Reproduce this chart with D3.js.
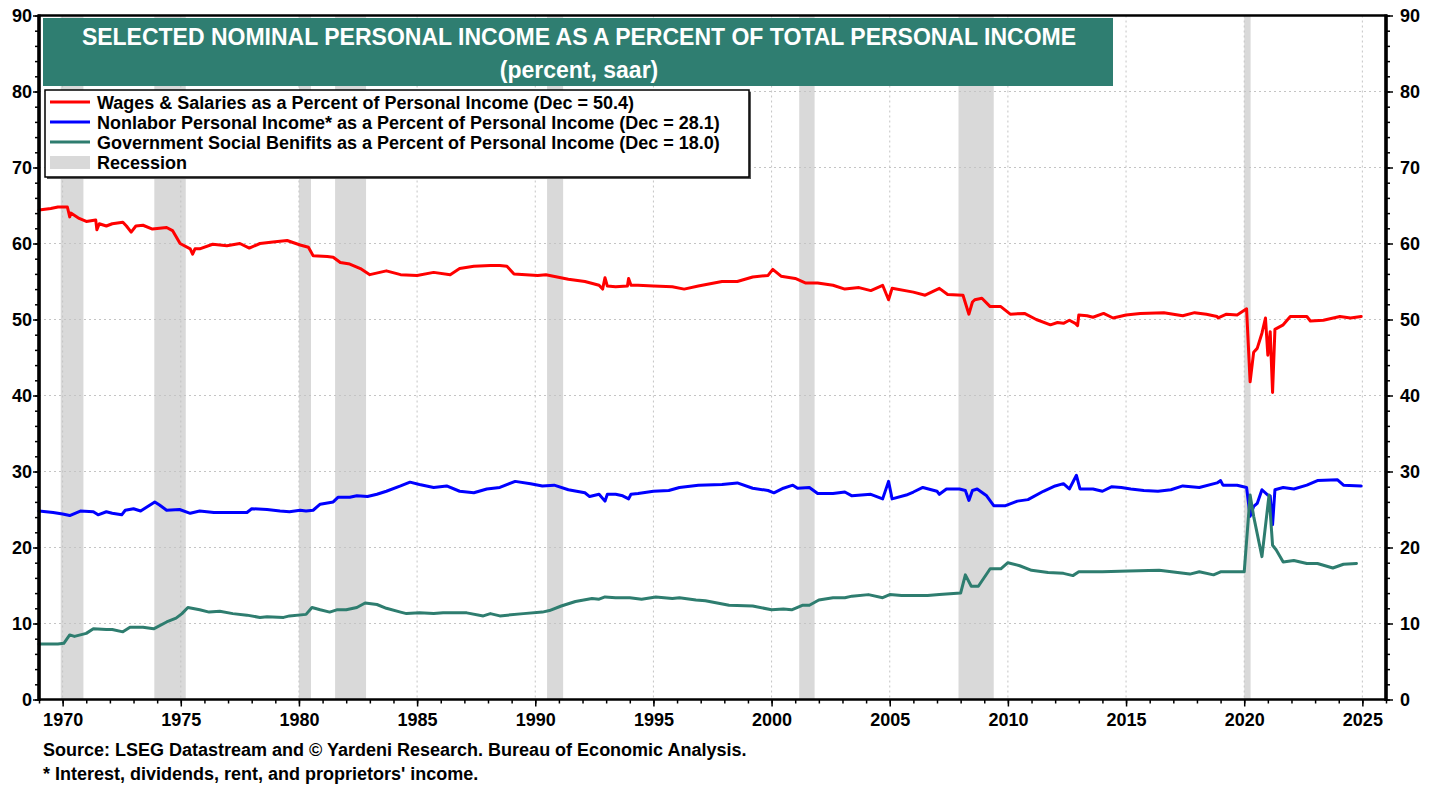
<!DOCTYPE html>
<meta charset="utf-8">
<style>
body { margin: 0; background: #fff; }
svg { font-family: Arial, "Liberation Sans", sans-serif; font-weight: bold; }
.grid line { stroke: #c4c4c4; stroke-width: 1; stroke-dasharray: 2,3; }
.axis path { display: none; }
.axis line { stroke: #000; stroke-width: 1.5; }
.axis text { font-size: 18px; fill: #000; font-weight: bold; }
.series { fill: none; stroke-width: 3; stroke-linejoin: round; stroke-linecap: round; }
</style>
<body></body>
<script src="https://d3js.org/d3.v7.min.js"></script>
<script>

// [year, percent]
var wages = [
  [1969.0,64.4],[1969.5,64.6],[1969.8,64.8],[1970.2,64.8],[1970.3,63.5],[1970.35,64.0],[1970.7,63.3],
  [1971.0,62.9],[1971.4,63.1],[1971.45,61.8],[1971.55,62.6],[1971.85,62.3],[1972.1,62.6],[1972.55,62.8],
  [1972.7,62.3],[1972.9,61.5],[1973.1,62.3],[1973.4,62.4],[1973.8,61.9],[1974.4,62.1],[1974.65,61.7],
  [1974.97,60.0],[1975.4,59.3],[1975.5,58.6],[1975.6,59.3],[1975.8,59.3],[1976.35,59.9],[1976.95,59.7],
  [1977.5,60.0],[1977.9,59.4],[1978.35,60.0],[1978.9,60.2],[1979.5,60.4],[1980.05,59.8],[1980.4,59.5],
  [1980.6,58.4],[1981.2,58.3],[1981.45,58.2],[1981.75,57.5],[1982.15,57.3],[1982.6,56.7],[1983.0,55.9],
  [1983.7,56.4],[1984.3,55.9],[1985.0,55.8],[1985.7,56.2],[1986.4,55.9],[1986.8,56.7],[1987.4,57.0],
  [1988.1,57.1],[1988.5,57.1],[1988.8,57.0],[1989.1,56.0],[1990.1,55.8],[1990.45,55.9],[1991.4,55.3],
  [1992.1,55.0],[1992.7,54.5],[1992.85,54.0],[1992.95,55.5],[1993.05,54.4],[1993.4,54.3],[1993.9,54.4],
  [1993.95,55.4],[1994.05,54.5],[1994.35,54.5],[1995.0,54.4],[1995.8,54.3],[1996.3,54.0],[1996.9,54.4],
  [1997.9,55.0],[1998.55,55.0],[1999.2,55.6],[1999.85,55.8],[2000.05,56.6],[2000.4,55.7],[2001.0,55.4],
  [2001.45,54.8],[2001.95,54.8],[2002.6,54.5],[2003.1,54.0],[2003.7,54.2],[2004.2,53.8],[2004.7,54.5],
  [2004.95,52.6],[2005.1,54.1],[2006.0,53.6],[2006.5,53.2],[2007.1,54.1],[2007.45,53.3],[2008.1,53.2],
  [2008.35,50.7],[2008.5,52.3],[2008.6,52.6],[2008.9,52.8],[2009.25,51.7],[2009.7,51.7],[2010.1,50.7],
  [2010.7,50.8],[2011.2,50.0],[2011.8,49.3],[2012.1,49.6],[2012.35,49.5],[2012.6,49.9],[2012.85,49.5],
  [2012.95,49.2],[2013.0,50.6],[2013.35,50.5],[2013.6,50.3],[2014.05,50.8],[2014.45,50.2],[2015.0,50.6],
  [2015.6,50.8],[2016.6,50.9],[2017.4,50.5],[2017.9,50.9],[2018.4,50.7],[2018.85,50.4],[2018.9,50.2],
  [2019.25,50.7],[2019.7,50.6],[2020.1,51.4],[2020.25,41.8],[2020.4,45.7],[2020.55,46.2],[2020.75,48.2],
  [2020.9,50.2],[2021.0,45.3],[2021.1,48.4],[2021.2,40.4],[2021.3,48.7],[2021.65,49.3],[2021.95,50.4],
  [2022.65,50.4],[2022.8,49.8],[2023.35,49.9],[2024.05,50.4],[2024.5,50.2],[2024.95,50.4]
];

var nonlabor = [
  [1969.0,24.8],[1969.6,24.6],[1970.0,24.4],[1970.3,24.2],[1970.75,24.8],[1971.3,24.7],[1971.5,24.3],
  [1971.85,24.7],[1972.1,24.5],[1972.5,24.3],[1972.65,24.9],[1973.0,25.1],[1973.3,24.8],[1973.55,25.3],
  [1973.9,26.0],[1974.1,25.6],[1974.4,24.9],[1974.95,25.0],[1975.4,24.5],[1975.8,24.8],[1976.4,24.6],
  [1977.2,24.6],[1977.8,24.6],[1978.0,25.1],[1978.65,25.0],[1979.2,24.8],[1979.6,24.7],[1980.05,24.9],
  [1980.3,24.8],[1980.6,24.9],[1980.9,25.7],[1981.45,26.0],[1981.65,26.6],[1982.15,26.6],[1982.45,26.8],
  [1982.9,26.7],[1983.3,27.0],[1983.7,27.4],[1984.3,28.1],[1984.7,28.6],[1985.1,28.3],[1985.7,27.9],
  [1986.25,28.1],[1986.8,27.4],[1987.4,27.2],[1987.95,27.7],[1988.5,27.9],[1989.15,28.7],[1989.8,28.4],
  [1990.3,28.1],[1990.8,28.2],[1991.4,27.6],[1992.1,27.2],[1992.3,26.7],[1992.7,27.0],[1992.95,26.1],
  [1993.05,27.0],[1993.4,27.0],[1993.7,26.8],[1993.95,26.4],[1994.05,27.0],[1994.35,27.1],[1995.0,27.4],
  [1995.65,27.5],[1996.1,27.9],[1996.9,28.2],[1997.9,28.3],[1998.55,28.5],[1999.2,27.8],[1999.85,27.5],
  [2000.1,27.2],[2000.5,27.8],[2000.9,28.2],[2001.1,27.8],[2001.6,27.9],[2001.95,27.1],[2002.6,27.1],
  [2003.1,27.3],[2003.4,26.8],[2004.2,27.0],[2004.7,26.4],[2004.95,28.7],[2005.1,26.4],[2005.7,26.9],
  [2006.0,27.3],[2006.4,27.9],[2007.0,27.4],[2007.1,27.0],[2007.4,27.7],[2007.95,27.7],[2008.2,27.5],
  [2008.35,26.2],[2008.5,27.5],[2008.7,27.7],[2009.1,26.8],[2009.4,25.5],[2009.9,25.5],[2010.4,26.1],
  [2010.85,26.3],[2011.5,27.4],[2012.0,28.1],[2012.35,28.4],[2012.6,27.7],[2012.9,29.5],[2013.05,27.7],
  [2013.6,27.7],[2014.0,27.4],[2014.4,28.0],[2014.8,27.9],[2015.2,27.7],[2015.75,27.5],[2016.35,27.4],
  [2016.9,27.6],[2017.4,28.1],[2018.1,27.9],[2018.85,28.5],[2019.0,28.8],[2019.1,28.2],[2019.7,28.2],
  [2020.1,27.9],[2020.25,24.1],[2020.4,25.4],[2020.55,25.8],[2020.75,27.6],[2021.0,26.9],[2021.1,26.8],
  [2021.2,23.0],[2021.3,27.6],[2021.65,27.9],[2022.1,27.7],[2022.65,28.2],[2023.1,28.8],[2023.95,28.9],
  [2024.2,28.2],[2024.95,28.1]
];

var govBenefits = [
  [1969.0,7.3],[1969.8,7.3],[1970.05,7.4],[1970.3,8.5],[1970.5,8.3],[1971.0,8.7],[1971.3,9.3],
  [1971.85,9.2],[1972.1,9.2],[1972.55,8.9],[1972.85,9.5],[1973.4,9.5],[1973.85,9.3],[1974.4,10.2],
  [1974.8,10.7],[1975.05,11.3],[1975.3,12.1],[1975.8,11.8],[1976.2,11.5],[1976.65,11.6],[1977.2,11.3],
  [1977.8,11.1],[1978.35,10.8],[1978.65,10.9],[1979.35,10.8],[1979.6,11.0],[1980.3,11.2],[1980.55,12.1],
  [1980.9,11.8],[1981.3,11.5],[1981.6,11.8],[1982.0,11.8],[1982.45,12.1],[1982.8,12.7],[1983.3,12.5],
  [1983.7,12.0],[1984.3,11.5],[1984.55,11.3],[1985.1,11.4],[1985.7,11.3],[1986.1,11.4],[1987.1,11.4],
  [1987.8,11.0],[1988.1,11.3],[1988.5,11.0],[1989.5,11.3],[1990.3,11.5],[1990.6,11.7],[1991.1,12.3],
  [1991.7,12.9],[1992.4,13.3],[1992.7,13.2],[1992.95,13.5],[1993.4,13.4],[1994.0,13.4],[1994.5,13.2],
  [1995.1,13.5],[1995.8,13.3],[1996.1,13.4],[1996.8,13.1],[1997.2,13.0],[1998.2,12.4],[1999.2,12.3],
  [2000.0,11.8],[2000.5,11.9],[2000.85,11.8],[2001.3,12.4],[2001.6,12.4],[2002.0,13.1],[2002.6,13.4],
  [2003.1,13.4],[2003.4,13.6],[2004.1,13.8],[2004.7,13.4],[2005.0,13.8],[2005.5,13.7],[2006.6,13.7],
  [2007.1,13.8],[2008.0,14.0],[2008.2,16.4],[2008.45,14.9],[2008.75,14.9],[2009.25,17.2],[2009.7,17.2],
  [2010.0,18.0],[2010.5,17.6],[2011.0,17.0],[2011.7,16.7],[2012.35,16.6],[2012.75,16.3],[2013.0,16.8],
  [2014.0,16.8],[2015.1,16.9],[2016.4,17.0],[2017.7,16.5],[2018.1,16.8],[2018.7,16.4],[2019.0,16.8],
  [2020.0,16.8],[2020.25,26.9],[2020.4,24.1],[2020.75,18.8],[2021.05,26.9],[2021.2,20.3],[2021.35,19.7],
  [2021.65,18.1],[2022.1,18.3],[2022.65,17.9],[2023.1,17.9],[2023.75,17.3],[2024.2,17.8],[2024.75,17.9]
];

// recession [start, end] as fractional years
var recessions = [
  [1969.92,1970.88],[1973.88,1975.21],[1980.0,1980.51],[1981.53,1982.84],
  [1990.5,1991.18],[2001.17,2001.82],[2007.91,2009.4],[2020.0,2020.27]
];

var legendLabels = [
  "Wages & Salaries as a Percent of Personal Income (Dec = 50.4)",
  "Nonlabor Personal Income* as a Percent of Personal Income (Dec = 28.1)",
  "Government Social Benifits as a Percent of Personal Income (Dec = 18.0)",
  "Recession"
];
var yTicks = [0,10,20,30,40,50,60,70,80,90];
var yearTicks = [1970,1975,1980,1985,1990,1995,2000,2005,2010,2015,2020,2025];

var colors = ["#ff0000", "#0000ff", "#2e7d6f"];
var titleColor = "#2f7e71";

var W = 1439, H = 785;
var plot = {left: 39, right: 1386, top: 15.5, bottom: 699.5};

var x = d3.scaleLinear().domain([1969, 2026]).range([plot.left, plot.right]);
var y = d3.scaleLinear().domain([0, 90]).range([plot.bottom, plot.top]);

var svg = d3.select("body").append("svg")
    .attr("width", W)
    .attr("height", H);

// recession shading
svg.append("g").selectAll("rect")
    .data(recessions)
  .enter().append("rect")
    .attr("x", function(d) { return x(d[0]); })
    .attr("width", function(d) { return x(d[1]) - x(d[0]); })
    .attr("y", plot.top)
    .attr("height", plot.bottom - plot.top)
    .attr("fill", "#d9d9d9");

// dotted grid
var grid = svg.append("g").attr("class", "grid");
grid.selectAll(".h")
    .data(yTicks.slice(1, -1))
  .enter().append("line")
    .attr("x1", plot.left).attr("x2", plot.right)
    .attr("y1", function(d) { return y(d); })
    .attr("y2", function(d) { return y(d); });
grid.selectAll(".v")
    .data(yearTicks)
  .enter().append("line")
    .attr("y1", plot.top).attr("y2", plot.bottom)
    .attr("x1", function(d) { return x(d); })
    .attr("x2", function(d) { return x(d); });

// series lines
var line = d3.line()
    .x(function(d) { return x(d[0]); })
    .y(function(d) { return y(d[1]); });

[wages, nonlabor, govBenefits].forEach(function(s, i) {
  svg.append("path")
      .datum(s)
      .attr("class", "series")
      .attr("stroke", colors[i])
      .attr("stroke-width", i == 2 ? 3.5 : 3)
      .attr("d", line);
});

// title box
svg.append("rect")
    .attr("x", 43).attr("y", 18)
    .attr("width", 1070).attr("height", 68)
    .attr("fill", titleColor);
svg.append("text")
    .attr("x", 579).attr("y", 45)
    .attr("text-anchor", "middle")
    .attr("fill", "#fff")
    .style("font-size", "23px")
    .text("SELECTED NOMINAL PERSONAL INCOME AS A PERCENT OF TOTAL PERSONAL INCOME");
svg.append("text")
    .attr("x", 579).attr("y", 78)
    .attr("text-anchor", "middle")
    .attr("fill", "#fff")
    .style("font-size", "23px")
    .text("(percent, saar)");

// legend
var lg = svg.append("g");
lg.append("rect")
    .attr("x", 47).attr("y", 92)
    .attr("width", 704).attr("height", 87)
    .attr("fill", "#555");
lg.append("rect")
    .attr("x", 45).attr("y", 90)
    .attr("width", 704).attr("height", 87)
    .attr("fill", "#fff")
    .attr("stroke", "#000")
    .attr("stroke-width", 1.5);

legendLabels.forEach(function(t, i) {
  var cy = 102 + i * 20;
  if (i < 3) {
    lg.append("line")
        .attr("x1", 50).attr("x2", 90)
        .attr("y1", cy).attr("y2", cy)
        .attr("stroke", colors[i])
        .attr("stroke-width", 3);
  } else {
    lg.append("rect")
        .attr("x", 50).attr("y", cy - 6)
        .attr("width", 40).attr("height", 13)
        .attr("fill", "#d9d9d9");
  }
  lg.append("text")
      .attr("x", 97).attr("y", cy + 6.5)
      .style("font-size", "18px")
      .text(t);
});

// frame
svg.append("rect")
    .attr("x", plot.left).attr("y", plot.top)
    .attr("width", plot.right - plot.left)
    .attr("height", plot.bottom - plot.top)
    .attr("fill", "none")
    .attr("stroke", "#000")
    .attr("stroke-width", 2.5);

// axes
var allYears = d3.range(1969, 2027);
svg.append("g")
    .attr("class", "axis")
    .attr("transform", "translate(0," + plot.bottom + ")")
    .call(d3.axisBottom(x).tickValues(allYears).tickSize(4).tickFormat(""));
svg.append("g")
    .attr("class", "axis")
    .attr("transform", "translate(0," + plot.bottom + ")")
    .call(d3.axisBottom(x).tickValues(yearTicks).tickSize(7).tickPadding(7).tickFormat(d3.format("d")));

var minorY = d3.range(0, 91, 2);
svg.append("g")
    .attr("class", "axis")
    .attr("transform", "translate(" + plot.left + ",0)")
    .call(d3.axisLeft(y).tickValues(minorY).tickSize(4).tickFormat(""));
svg.append("g")
    .attr("class", "axis")
    .attr("transform", "translate(" + plot.left + ",0)")
    .call(d3.axisLeft(y).tickValues(yTicks).tickSize(6).tickPadding(1));
svg.append("g")
    .attr("class", "axis")
    .attr("transform", "translate(" + plot.right + ",0)")
    .call(d3.axisRight(y).tickValues(minorY).tickSize(4).tickFormat(""));
svg.append("g")
    .attr("class", "axis")
    .attr("transform", "translate(" + plot.right + ",0)")
    .call(d3.axisRight(y).tickValues(yTicks).tickSize(7).tickPadding(7));

// thick y axis lines
[plot.left, plot.right].forEach(function(px) {
  svg.append("line")
      .attr("x1", px).attr("x2", px)
      .attr("y1", plot.top - 1).attr("y2", plot.bottom + 1.5)
      .attr("stroke", "#000")
      .attr("stroke-width", 3.5);
});

// source notes
svg.append("text")
    .attr("x", 43).attr("y", 756)
    .style("font-size", "18px")
    .text("Source: LSEG Datastream and \u00a9 Yardeni Research. Bureau of Economic Analysis.");
svg.append("text")
    .attr("x", 43).attr("y", 780)
    .style("font-size", "18px")
    .text("* Interest, dividends, rent, and proprietors' income.");

</script>
